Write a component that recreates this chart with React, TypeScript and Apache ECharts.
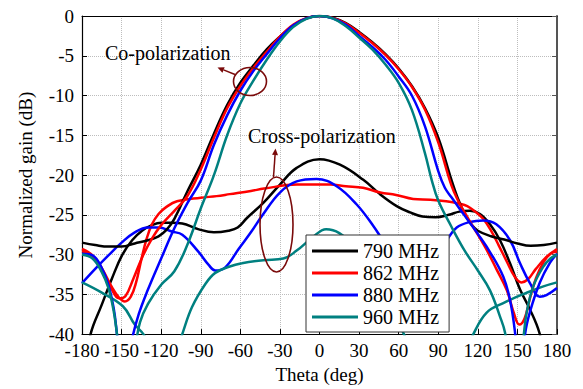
import React, { useEffect, useRef } from "react";
import * as echarts from "echarts";

const THETA_TICKS = [-180, -150, -120, -90, -60, -30, 0, 30, 60, 90, 120, 150, 180];
const GAIN_TICKS = [-40, -35, -30, -25, -20, -15, -10, -5, 0];
const FREQS = ["790 MHz", "862 MHz", "880 MHz", "960 MHz"];

// Co-polarization (theta deg, gain dB)
const co790: [number, number][] = [
  [-180, -28.5], [-170, -28.8], [-160, -29.0], [-150, -29.0], [-140, -28.6], [-130, -28.2], [-122, -27.7],
  [-116, -26.9], [-110, -25.5], [-100, -22.0], [-90, -18.7], [-80, -14.8], [-70, -11.2], [-60, -8.4],
  [-50, -6.2], [-40, -4.2], [-30, -2.6], [-20, -1.2], [-10, -0.3], [0, 0], [10, -0.2], [20, -0.9],
  [30, -2.0], [40, -3.3], [50, -4.8], [60, -6.6], [70, -8.8], [80, -11.6], [90, -15.3], [100, -20.6],
  [105, -23.0], [110, -24.9], [115, -26.2], [120, -27.0], [130, -27.7], [140, -28.1], [150, -28.6],
  [160, -28.9], [170, -28.8], [180, -28.5],
];
const co862: [number, number][] = [
  [-180, -29.6], [-172, -30.2], [-165, -31.9], [-158, -34.2], [-152, -35.5], [-147, -35.2], [-141, -33],
  [-134, -30.2], [-127, -28], [-120, -26.3], [-110, -24.5], [-100, -22.6], [-90, -19.3], [-80, -15.3],
  [-70, -11.6], [-60, -8.8], [-50, -6.5], [-40, -4.5], [-30, -2.6], [-20, -1.1], [-10, -0.28], [0, 0],
  [10, -0.24], [20, -0.95], [30, -2.1], [40, -3.4], [50, -4.9], [60, -6.7], [70, -8.9], [80, -11.8],
  [90, -15.9], [100, -21.3], [105, -23.2], [110, -24.7], [116, -26.4], [126, -29.2], [134, -31.8],
  [142, -34.5], [147, -37.2], [151.5, -38.8], [155.5, -38], [159.5, -35.5], [164, -33], [170, -30.9],
  [175, -29.9], [180, -29.6],
];
const co880: [number, number][] = [
  [-180, -29.9], [-172, -30.1], [-165, -31.7], [-160, -33.8], [-156, -36.7], [-153.5, -40], [-150.5, -44.5],
  [-146, -45.5], [-142.5, -41], [-137, -37.5], [-130, -34.4], [-120, -30.5], [-110, -26.7], [-100, -23.5],
  [-90, -20.7], [-80, -16.2], [-70, -12.5], [-60, -9.4], [-50, -6.9], [-40, -4.8], [-30, -2.8], [-20, -1.2],
  [-10, -0.3], [0, 0], [10, -0.3], [20, -1.1], [30, -2.5], [40, -3.9], [50, -5.5], [60, -7.6], [70, -10],
  [80, -13.9], [90, -19.5], [95, -21.6], [100, -22.8], [110, -25.1], [120, -27.4], [130, -29.9],
  [139.3, -32.8], [144.4, -35.7], [148.2, -39.8], [151, -45], [153.5, -45], [155.8, -40], [159.5, -37.2],
  [167, -33.5], [174.7, -31], [180, -29.9],
];
const co960: [number, number][] = [
  [-180, -30.0], [-172, -30.5], [-165, -32.2], [-160, -34.2], [-156, -37.1], [-153.5, -40], [-150, -45],
  [-144, -46], [-139.5, -41.5], [-136, -38.5], [-130, -36.2], [-120, -33.8], [-110, -32.1], [-100, -28.7],
  [-90, -24.2], [-80, -20], [-70, -15], [-60, -11.0], [-50, -8.1], [-40, -5.5], [-30, -3.2], [-20, -1.4],
  [-10, -0.35], [0, 0], [10, -0.3], [20, -1.3], [30, -2.7], [40, -4.2], [50, -6.1], [60, -8.4], [70, -11.8],
  [80, -17.3], [85, -20.6], [90, -23.2], [100, -26.5], [110, -29.5], [120, -32], [129.2, -34.5],
  [136.8, -37.8], [140.6, -39.8], [145, -45], [150, -46], [154.5, -40.5], [157, -37.3], [162, -34],
  [169.7, -31.5], [175, -30.5], [180, -30.0],
];

// Cross-polarization (theta deg, gain dB)
const cross790: [number, number][] = [
  [-180, -48], [-176, -43.5], [-173.5, -40], [-165, -36.3], [-157.3, -33], [-149.7, -30.1], [-142, -28.2],
  [-134.5, -27], [-127, -26.3], [-120, -26], [-112, -26], [-104, -26.1], [-92, -26.8], [-80, -27.2],
  [-69, -27], [-62, -26.6], [-55, -25.4], [-42.6, -23.5], [-30, -21.2], [-17.3, -19.1], [0, -18],
  [15.5, -18.7], [33.2, -20.6], [45.8, -22.4], [58.5, -23.9], [68.6, -24.7], [78, -25.2], [88, -25.3],
  [98, -25], [106, -24.6], [114, -24.5], [121.6, -24.9], [129.2, -26.2], [136.8, -28.2], [144.4, -31.1],
  [152, -34.4], [159.5, -36.9], [166.6, -39.8], [172, -44], [180, -48],
];
const cross862: [number, number][] = [
  [-180, -29.3], [-172, -30.1], [-165, -31.7], [-157, -34.2], [-152, -35.4], [-147.5, -35.9], [-143, -35.3],
  [-139, -33.5], [-135, -30.6], [-131, -28], [-127, -26.2], [-122, -24.9], [-116, -24], [-108, -23.3],
  [-90, -22.85], [-78, -22.65], [-68, -22.4], [-52, -22], [-42, -21.7], [-17, -21.2], [8, -21.2], [20, -21.4],
  [33, -21.6], [46, -22.2], [58, -22.5], [71, -23], [84, -23.1], [96, -23.3], [106, -23.6], [112, -23.9],
  [118, -24.6], [124, -25.5], [130, -27], [136, -28.9], [142, -30.9], [148, -32.8], [153, -33.5],
  [158, -33.1], [164, -31.8], [172, -30.3], [180, -29.3],
];
const cross880: [number, number][] = [
  [-180, -33.6], [-170, -31.8], [-160, -30.1], [-150, -28.5], [-140, -27.2], [-130, -26.6], [-122, -26.6],
  [-112, -27.1], [-104, -27.5], [-92, -29.6], [-84, -31.3], [-79, -32], [-71.4, -31.6], [-61.3, -29.3],
  [-52, -27.2], [-42.6, -24.9], [-30, -22.2], [-17.3, -20.8], [-2.2, -20.5], [13, -21.4], [28.2, -23.7],
  [40.8, -26.4], [48.4, -28.3], [60, -31], [75, -32.3], [88, -30.5], [96.4, -28.2], [104, -26.6],
  [114, -25.9], [124, -25.7], [134, -26.2], [144.4, -28.2], [152, -31.1], [159.5, -33.6], [167, -35.3],
  [172, -35.1], [180, -34.2],
];
const cross960: [number, number][] = [
  [-180, -33.5], [-166, -34.7], [-149, -36.5], [-140, -38.8], [-133.5, -40], [-125, -42.5], [-115, -44],
  [-108, -42], [-104, -40], [-96.6, -36.6], [-86.5, -33.7], [-79, -32.3], [-68, -31.5], [-58.8, -31.1],
  [-42.6, -30.7], [-27.4, -30.5], [-17.3, -29.5], [-5, -27.8], [5, -26.8], [15, -27.3], [30, -29.5],
  [50, -35], [70, -42], [90, -47], [105, -45], [112, -42], [116.6, -40], [126.7, -37.3], [139.3, -36.1],
  [157, -34.8], [169.7, -34], [180, -33.5],
];

const CO = [co790, co862, co880, co960];
const CROSS = [cross790, cross862, cross880, cross960];
const COLORS = ["#000000", "#ff0000", "#0000ff", "#008080"];
const FONT = "'Liberation Serif', 'Times New Roman', serif";
const ANN = "#7a0a0a";

export default function App() {
  const ref = useRef<HTMLDivElement>(null);
  useEffect(() => {
    if (!ref.current) return;
    const chart = echarts.init(ref.current, null, { renderer: "svg" });
    const mk = (data: [number, number][], i: number) => ({
      type: "line",
      name: FREQS[i],
      data,
      smooth: 0.4,
      showSymbol: false,
      symbol: "none",
      color: COLORS[i],
      lineStyle: { color: COLORS[i], width: 2.5 },
      silent: true,
      clip: true,
    });
    const series = [
      ...CROSS.map((d, i) => mk(d, i)),
      ...CO.map((d, i) => mk(d, i)),
    ];
    const xMin = THETA_TICKS[0];
    const xMax = THETA_TICKS[THETA_TICKS.length - 1];
    const yMin = GAIN_TICKS[0];
    const yMax = GAIN_TICKS[GAIN_TICKS.length - 1];
    const arrow = (x1: number, y1: number, tx: number, ty: number) => {
      const dx = tx - x1, dy = ty - y1;
      const L = Math.hypot(dx, dy);
      const ux = dx / L, uy = dy / L;
      const bx = tx - ux * 6.5, by = ty - uy * 6.5;
      const px = -uy * 3, py = ux * 3;
      return [
        { type: "line", shape: { x1, y1, x2: bx, y2: by }, style: { stroke: ANN, lineWidth: 1.5 }, z: 100 },
        { type: "polygon", shape: { points: [[tx, ty], [bx + px, by + py], [bx - px, by - py]] }, style: { fill: ANN }, z: 100 },
      ];
    };
    chart.setOption({
      animation: false,
      grid: { left: 82, right: 26, top: 16, bottom: 51, containLabel: false },
      legend: {
        data: FREQS,
        orient: "vertical",
        left: 306,
        top: 235,
        padding: [6, 10, 5, 6],
        itemGap: 2,
        itemWidth: 46,
        itemHeight: 3,
        icon: "rect",
        backgroundColor: "#ffffff",
        borderColor: "#333333",
        borderWidth: 1,
        borderRadius: 0,
        selectedMode: false,
        textStyle: { fontFamily: FONT, fontSize: 20, color: "#000", lineHeight: 20 },
      },
      xAxis: [
        {
          type: "value", position: "bottom", min: xMin, max: xMax, interval: THETA_TICKS[1] - THETA_TICKS[0],
          name: "Theta (deg)", nameLocation: "middle", nameGap: 28,
          nameTextStyle: { fontFamily: FONT, fontSize: 19, color: "#000" },
          axisLine: { show: true, onZero: false, lineStyle: { color: "#000", width: 1.2 } },
          axisTick: { show: true, inside: true, length: 5, lineStyle: { color: "#000" } },
          axisLabel: { fontFamily: FONT, fontSize: 19, color: "#000", margin: 7 },
          splitLine: { show: true, lineStyle: { type: "dotted", color: "#bdbdbd", width: 1 } },
        },
        {
          type: "value", position: "top", min: xMin, max: xMax, interval: THETA_TICKS[1] - THETA_TICKS[0],
          axisLine: { show: true, onZero: false, lineStyle: { color: "#000", width: 1 } },
          axisTick: { show: false }, axisLabel: { show: false }, splitLine: { show: false },
        },
      ],
      yAxis: [
        {
          type: "value", position: "left", min: yMin, max: yMax, interval: GAIN_TICKS[1] - GAIN_TICKS[0],
          name: "Normalized gain (dB)", nameLocation: "middle", nameGap: 47, nameRotate: 90,
          nameTextStyle: { fontFamily: FONT, fontSize: 19, color: "#000" },
          axisLine: { show: true, onZero: false, lineStyle: { color: "#000", width: 1.2 } },
          axisTick: { show: true, inside: true, length: 5, lineStyle: { color: "#000" } },
          axisLabel: { fontFamily: FONT, fontSize: 19, color: "#000", margin: 8 },
          splitLine: { show: true, lineStyle: { type: "dotted", color: "#bdbdbd", width: 1 } },
        },
        {
          type: "value", position: "right", min: yMin, max: yMax, interval: GAIN_TICKS[1] - GAIN_TICKS[0],
          axisLine: { show: true, onZero: false, lineStyle: { color: "#555", width: 2 } },
          axisTick: { show: true, inside: true, length: 5, lineStyle: { color: "#555" } },
          axisLabel: { show: false }, splitLine: { show: false },
        },
      ],
      series,
      graphic: [
        { type: "ellipse", shape: { cx: 250, cy: 81.5, rx: 16.5, ry: 14 }, style: { fill: "none", stroke: ANN, lineWidth: 1.6 }, z: 100 },
        ...arrow(235, 74.5, 217.5, 67.5),
        { type: "ellipse", shape: { cx: 276.5, cy: 224.5, rx: 16.5, ry: 47.5 }, style: { fill: "none", stroke: ANN, lineWidth: 1.6 }, z: 100 },
        ...arrow(273.5, 177, 275.5, 148.5),
        { type: "text", x: 105, y: 53, style: { text: "Co-polarization", fontFamily: FONT, fontSize: 20, fill: "#000", align: "left", verticalAlign: "middle" }, z: 100 },
        { type: "text", x: 248, y: 136, style: { text: "Cross-polarization", fontFamily: FONT, fontSize: 20, fill: "#000", align: "left", verticalAlign: "middle" }, z: 100 },
      ],
    });
    return () => chart.dispose();
  }, []);
  return <div ref={ref} style={{ position: "fixed", left: 0, top: 0, width: 583, height: 389, background: "#fff" }} />;
}
